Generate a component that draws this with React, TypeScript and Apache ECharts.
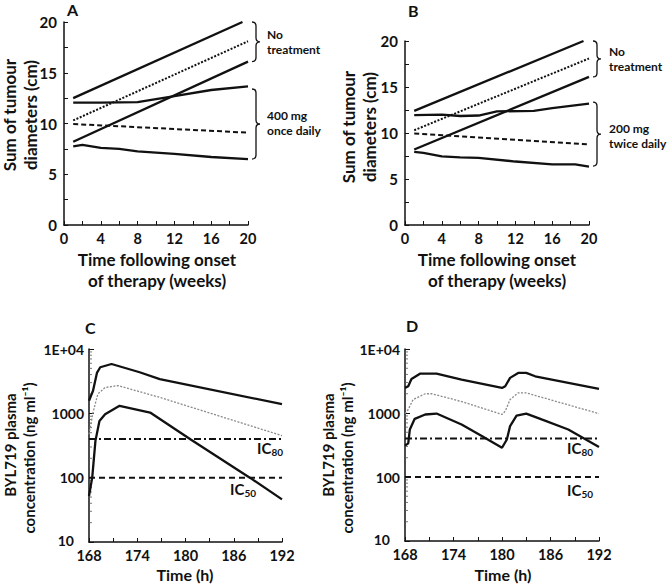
import React, { useEffect, useRef } from "react";
import * as echarts from "echarts";

// ---------- Panel A: 400 mg once daily (weeks, cm) ----------
const aUntreatedUpper = [[1, 12.5], [19.4, 20]];
const aUntreatedMedian = [[1, 10.3], [20, 18.1]];
const aUntreatedLower = [[1, 8.2], [20, 16.1]];
const aTreatedUpper = [[1, 12.05], [4, 12.05], [8, 12.1], [10, 12.4], [12, 12.7], [16, 13.3], [20, 13.65]];
const aTreatedMedian = [[1, 9.95], [20, 9.1]];
const aTreatedLower = [[1, 7.75], [2, 7.9], [4, 7.6], [6, 7.5], [8, 7.25], [12, 7.0], [16, 6.7], [20, 6.5]];

// ---------- Panel B: 200 mg twice daily ----------
const bUntreatedUpper = [[1, 12.4], [19.4, 20]];
const bUntreatedMedian = [[1, 10.3], [20, 18.1]];
const bUntreatedLower = [[1, 8.2], [20, 16.1]];
const bTreatedUpper = [[1, 11.95], [4, 12.0], [6, 11.85], [8, 11.9], [10, 12.35], [14, 12.4], [16, 12.7], [20, 13.2]];
const bTreatedMedian = [[1, 9.95], [20, 8.75]];
const bTreatedLower = [[1, 7.95], [2, 7.85], [4, 7.45], [6, 7.35], [8, 7.3], [12, 6.9], [16, 6.6], [18.5, 6.6], [20, 6.35]];

// brace ranges [x, yLow, yHigh]
const aBraces = [[20, 16.1, 20], [20, 6.5, 13.4]];
const bBraces = [[20, 16.1, 20], [20, 6.4, 13.35]];

// ---------- Panel C: PK, 400 mg once daily (h, ng/ml) ----------
const cUpper = [[168, 1570], [168.5, 2240], [169, 4300], [169.4, 5200], [170.8, 5850], [174.3, 4350], [176.8, 3400], [192, 1390]];
const cMedian = [[168, 470], [168.5, 1030], [169.1, 2000], [170, 2520], [171.6, 2700], [176.8, 1770], [192, 450]];
const cLower = [[168, 52], [168.4, 100], [168.8, 373], [169.3, 760], [170, 970], [171.8, 1310], [175.6, 1030], [180.6, 395], [188, 100], [192, 46]];

// ---------- Panel D: PK, 200 mg twice daily ----------
const dUpper = [[168, 2470], [168.4, 2620], [168.8, 3400], [169.9, 4130], [171.9, 4130], [175, 3320], [180, 2460], [180.4, 2620], [181, 3540], [182, 4230], [183, 4230], [184.1, 3750], [192, 2380]];
const dMedian = [[168, 977], [168.4, 1135], [169, 1620], [170.5, 2000], [171.3, 2000], [175, 1510], [180, 950], [180.4, 1070], [181, 1620], [182, 2060], [183, 2060], [192, 977]];
const dLower = [[168, 309], [168.4, 335], [168.6, 553], [169.2, 811], [170.5, 948], [171.9, 980], [175, 661], [177.5, 436], [180, 286], [180.6, 386], [181, 624], [181.8, 910], [183, 980], [184.9, 794], [188.2, 553], [192, 295]];

const ic80 = 400;
const ic50 = 100;
const timeRange = [168, 192];
const logMinorTicks = [20, 30, 40, 50, 60, 70, 80, 90, 200, 300, 400, 500, 600, 700, 800, 900, 2000, 3000, 4000, 5000, 6000, 7000, 8000, 9000];

const FONT = "Lato";
const INK = "#111";

const solid = { color: INK, width: 2.3, type: "solid" as any };
const dotted = { color: INK, width: 2, type: [2, 1.6] as any };
const dashed = { color: INK, width: 2, type: [5, 3] as any };
const greyDotted = { color: "#8a8a8a", width: 1.3, type: [2, 1.5] as any };
const dashDot = { color: INK, width: 2, type: [7, 3, 2, 3] as any };
const icDashed = { color: INK, width: 2, type: [6, 4] as any };

function line(idx: number, data: number[][], ls: any) {
  return {
    type: "line",
    xAxisIndex: idx,
    yAxisIndex: idx,
    data,
    showSymbol: false,
    symbol: "none",
    lineStyle: ls,
    silent: true,
  };
}

function braceSeries(idx: number, data: number[][]) {
  return {
    type: "custom",
    xAxisIndex: idx,
    yAxisIndex: idx,
    data,
    silent: true,
    z: 5,
    renderItem: (params: any, api: any) => {
      const top = api.coord([api.value(0), api.value(2)]);
      const bot = api.coord([api.value(0), api.value(1)]);
      const x0 = top[0] + 4;
      const xs = x0 + 4;
      const xt = x0 + 8;
      const yt = top[1];
      const yb = bot[1];
      const ym = (yt + yb) / 2;
      const r = 4;
      const d =
        `M ${x0} ${yt} Q ${xs} ${yt} ${xs} ${yt + r} L ${xs} ${ym - r} Q ${xs} ${ym} ${xt} ${ym} ` +
        `Q ${xs} ${ym} ${xs} ${ym + r} L ${xs} ${yb - r} Q ${xs} ${yb} ${x0} ${yb}`;
      return {
        type: "path",
        shape: { pathData: d },
        style: { fill: "none", stroke: INK, lineWidth: 1.3 },
      };
    },
  };
}

function logTickSeries(idx: number) {
  return {
    type: "custom",
    xAxisIndex: idx,
    yAxisIndex: idx,
    data: logMinorTicks.map((v) => [timeRange[0], v]),
    silent: true,
    renderItem: (params: any, api: any) => {
      const p = api.coord([api.value(0), api.value(1)]);
      return {
        type: "line",
        shape: { x1: p[0], y1: p[1], x2: p[0] + 3, y2: p[1] },
        style: { stroke: "#555", lineWidth: 0.8 },
      };
    },
  };
}

const labelStyle = { color: INK, fontFamily: FONT, fontWeight: "bold" as any, fontSize: 14 };
const axisLineStyle = { show: true, lineStyle: { color: INK, width: 1.5 } };

function xAxisWeeks(idx: number) {
  return {
    type: "value",
    gridIndex: idx,
    min: 0,
    max: 20,
    interval: 4,
    axisLine: axisLineStyle,
    axisTick: { show: true, inside: true, length: 4, lineStyle: { color: INK, width: 1 } },
    minorTick: { show: true, splitNumber: 2, length: 4, lineStyle: { color: INK, width: 1 } },
    splitLine: { show: false },
    axisLabel: { ...labelStyle, fontSize: 14.5, margin: 6 },
  };
}
function yAxisCm(idx: number) {
  return {
    type: "value",
    gridIndex: idx,
    min: 0,
    max: 20,
    interval: 5,
    axisLine: axisLineStyle,
    axisTick: { show: true, inside: true, length: 4, lineStyle: { color: INK, width: 1 } },
    minorTick: { show: true, splitNumber: 2, length: 4, lineStyle: { color: INK, width: 1 } },
    splitLine: { show: false },
    axisLabel: { ...labelStyle, fontSize: 15, margin: 7 },
  };
}
function xAxisHours(idx: number) {
  return {
    type: "value",
    gridIndex: idx,
    min: timeRange[0],
    max: timeRange[1],
    interval: 6,
    axisLine: axisLineStyle,
    axisTick: { show: true, inside: true, length: 4, lineStyle: { color: INK, width: 1 } },
    minorTick: { show: true, splitNumber: 2, length: 4, lineStyle: { color: INK, width: 1 } },
    splitLine: { show: false },
    axisLabel: { ...labelStyle, fontSize: 14.5, lineHeight: 14, margin: 6 },
  };
}
function yAxisConc(idx: number) {
  return {
    type: "log",
    logBase: 10,
    gridIndex: idx,
    min: 10,
    max: 10000,
    axisLine: axisLineStyle,
    axisTick: { show: true, inside: true, length: 5, lineStyle: { color: INK, width: 1 } },
    splitLine: { show: false },
    axisLabel: {
      ...labelStyle,
      fontSize: 14,
      lineHeight: 12,
      margin: 5,
      formatter: (v: number) =>
        v >= 10000 ? "1E+04" : v <= 10 ? "{low|10}" : String(Math.round(v)),
      rich: {
        low: { ...labelStyle, fontSize: 14, lineHeight: 12, padding: [0, 10, 3, 0] },
      },
    },
  };
}

function txt(x: number, y: number, text: string, size: number, extra: any = {}) {
  return {
    type: "text",
    x,
    y,
    silent: true,
    ...extra.el,
    style: {
      text,
      fill: INK,
      fontFamily: FONT,
      fontWeight: "bold",
      fontSize: size,
      lineHeight: extra.lineHeight || size,
      align: extra.align || "left",
      verticalAlign: "middle",
    },
  };
}
function vtxt(x: number, y: number, text: string, size: number) {
  return txt(x, y, text, size, { align: "center", el: { rotation: Math.PI / 2 } });
}
function noteTxt(x: number, y: number, text: string) {
  return txt(x, y, text, 12);
}
function icLabel(x: number, y: number, sub: string) {
  return {
    type: "text",
    x,
    y,
    silent: true,
    style: {
      text: `{ic|IC}{sub|${sub}}`,
      align: "right",
      verticalAlign: "middle",
      fill: INK,
      rich: {
        ic: { fontFamily: FONT, fontWeight: "bold", fontSize: 15, fill: INK, lineHeight: 15 },
        sub: { fontFamily: FONT, fontWeight: "bold", fontSize: 10, fill: INK, lineHeight: 10, padding: [7, 0, 0, 0] },
      },
    },
  };
}

export default function App() {
  const ref = useRef<HTMLDivElement>(null);
  useEffect(() => {
    if (!ref.current) return;
    const chart = echarts.init(ref.current, undefined, { renderer: "svg" });
    const option: any = {
      animation: false,
      backgroundColor: "#fff",
      grid: [
        { left: 64, top: 22, width: 184, height: 203 },
        { left: 405, top: 41, width: 184, height: 184 },
        { left: 89, top: 349, width: 193, height: 193 },
        { left: 405, top: 349, width: 194, height: 192 },
      ],
      xAxis: [xAxisWeeks(0), xAxisWeeks(1), xAxisHours(2), xAxisHours(3)],
      yAxis: [yAxisCm(0), yAxisCm(1), yAxisConc(2), yAxisConc(3)],
      series: [
        line(0, aUntreatedUpper, solid),
        line(0, aUntreatedMedian, dotted),
        line(0, aUntreatedLower, solid),
        line(0, aTreatedUpper, solid),
        line(0, aTreatedMedian, dashed),
        line(0, aTreatedLower, solid),
        braceSeries(0, aBraces),
        line(1, bUntreatedUpper, solid),
        line(1, bUntreatedMedian, dotted),
        line(1, bUntreatedLower, solid),
        line(1, bTreatedUpper, solid),
        line(1, bTreatedMedian, dashed),
        line(1, bTreatedLower, solid),
        braceSeries(1, bBraces),
        line(2, cUpper, solid),
        line(2, cMedian, greyDotted),
        line(2, cLower, solid),
        line(2, timeRange.map((t) => [t, ic80]), dashDot),
        line(2, timeRange.map((t) => [t, ic50]), icDashed),
        logTickSeries(2),
        line(3, dUpper, solid),
        line(3, dMedian, greyDotted),
        line(3, dLower, solid),
        line(3, timeRange.map((t) => [t, ic80]), dashDot),
        line(3, timeRange.map((t) => [t, ic50]), icDashed),
        logTickSeries(3),
      ],
      graphic: [
        txt(67, 9, "A", 16),
        txt(408, 10, "B", 16),
        txt(85, 327, "C", 16),
        txt(406, 325, "D", 16),
        vtxt(9.5, 115, "Sum of tumour", 17),
        vtxt(30, 115, "diameters (cm)", 17),
        vtxt(348.5, 127, "Sum of tumour", 17),
        vtxt(369, 127, "diameters (cm)", 17),
        txt(157, 259.5, "Time following onset", 17, { align: "center" }),
        txt(157, 280.5, "of therapy (weeks)", 17, { align: "center" }),
        txt(497, 259.5, "Time following onset", 17, { align: "center" }),
        txt(497, 280.5, "of therapy (weeks)", 17, { align: "center" }),
        noteTxt(267, 34, "No"),
        noteTxt(267, 49, "treatment"),
        noteTxt(267, 115, "400 mg"),
        noteTxt(267, 130, "once daily"),
        noteTxt(609, 51, "No"),
        noteTxt(609, 66, "treatment"),
        noteTxt(609, 128.5, "200 mg"),
        noteTxt(609, 143.5, "twice daily"),
        vtxt(9.5, 445, "BYL719 plasma", 15),
        vtxt(28.5, 458, "concentration (ng ml⁻¹)", 15),
        vtxt(327.5, 445, "BYL719 plasma", 15),
        vtxt(346.5, 458, "concentration (ng ml⁻¹)", 15),
        txt(185, 574, "Time (h)", 16, { align: "center" }),
        txt(503, 574, "Time (h)", 16, { align: "center" }),
        icLabel(283, 448, "80"),
        icLabel(256, 489, "50"),
        icLabel(593, 448, "80"),
        icLabel(593, 490, "50"),
      ],
    };
    chart.setOption(option);
    return () => chart.dispose();
  }, []);
  return (
    <div
      ref={ref}
      style={{ position: "fixed", left: 0, top: 0, width: 672, height: 584, background: "#fff" }}
    />
  );
}
